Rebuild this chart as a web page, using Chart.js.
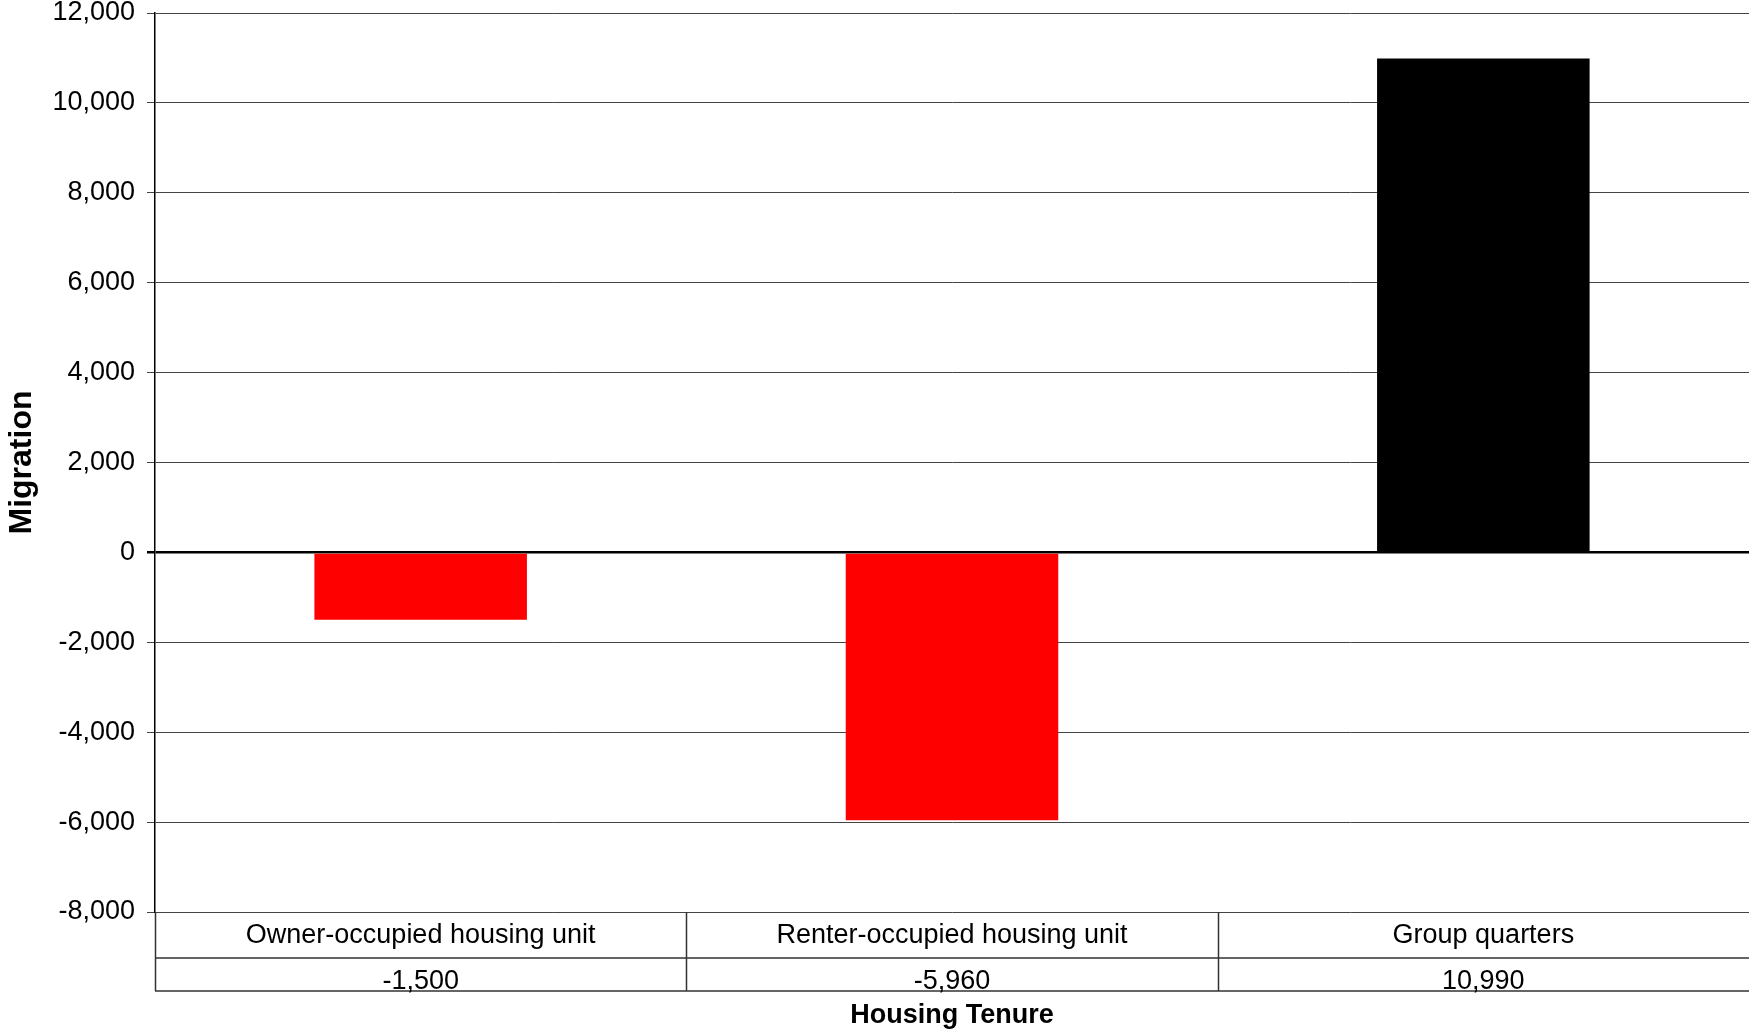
<!DOCTYPE html>
<html>
<head>
<meta charset="utf-8">
<script src="https://cdn.jsdelivr.net/npm/chart.js@4/dist/chart.umd.min.js"></script>
<style>
    body { margin: 0; background: #fff; }
    #wrap { width: 1749px; height: 1032px; }
</style>
</head>
<body>
<div id="wrap"><canvas id="tenureChart" width="1749" height="1032"></canvas></div>
<script>
const categories = ["Owner-occupied housing unit", "Renter-occupied housing unit", "Group quarters"];
const migration = [-1500, -5960, 10990];
const yTitle = "Migration";
const xTitle = "Housing Tenure";

const FONT = "'Liberation Sans', Arial, sans-serif";

function fmt(v) {
    return v.toLocaleString("en-US");
}

// data table under the plot, plus the x axis title
const tablePlugin = {
    id: "dataTable",
    afterDraw(chart) {
        let ctx = chart.ctx;
        let area = chart.chartArea;
        let x = chart.scales.x;
        let top = area.bottom;
        let mid = top + 46;
        let bottom = top + 79;
        let colW = (area.right - area.left) / categories.length;

        ctx.save();
        ctx.strokeStyle = "#333";
        ctx.lineWidth = 1.5;
        ctx.beginPath();
        ctx.moveTo(area.left, mid);
        ctx.lineTo(area.right, mid);
        ctx.moveTo(area.left, bottom);
        ctx.lineTo(area.right, bottom);
        for (let i = 0; i < categories.length; i++) {
            let lx = Math.round(x.getPixelForValue(i) - colW / 2) + 0.5;
            ctx.moveTo(lx, top);
            ctx.lineTo(lx, bottom);
        }
        ctx.stroke();

        ctx.fillStyle = "#000";
        ctx.textAlign = "center";
        ctx.textBaseline = "middle";
        ctx.font = "27px " + FONT;
        categories.forEach((c, i) => {
            let cx = x.getPixelForValue(i);
            ctx.fillText(c, cx, top + 24);
            ctx.fillText(fmt(migration[i]), cx, mid + 24);
        });

        ctx.font = "bold 27px " + FONT;
        ctx.fillText(xTitle, (area.left + area.right) / 2, 1016);
        ctx.restore();
    }
};

new Chart(document.getElementById("tenureChart").getContext("2d"), {
    type: "bar",
    data: {
        labels: categories,
        datasets: [{
            label: yTitle,
            data: migration,
            backgroundColor: c => (c.raw < 0 ? "#ff0000" : "#000000"),
            borderWidth: 0,
            categoryPercentage: 1.0,
            barPercentage: 0.4
        }]
    },
    options: {
        responsive: false,
        animation: false,
        layout: { padding: { top: 13, bottom: 120, left: 0, right: 0 } },
        plugins: {
            legend: { display: false },
            tooltip: { enabled: false }
        },
        scales: {
            x: {
                display: false
            },
            y: {
                min: -8000,
                max: 12000,
                afterFit(scale) {
                    scale.width = 155;
                    scale.paddingTop = 0;
                    scale.paddingBottom = 0;
                },
                ticks: {
                    stepSize: 2000,
                    color: "#000",
                    padding: 12,
                    font: { family: FONT, size: 27 },
                    callback: v => fmt(v)
                },
                grid: {
                    color: c => (c.tick && c.tick.value === 0 ? "#000" : "#444"),
                    lineWidth: c => (c.tick && c.tick.value === 0 ? 2.5 : 1),
                    tickLength: 8
                },
                border: { color: "#000", width: 1.5 },
                title: {
                    display: true,
                    text: yTitle,
                    color: "#000",
                    padding: { top: 3, bottom: 0 },
                    font: { family: FONT, size: 32, weight: "bold" }
                }
            }
        }
    },
    plugins: [tablePlugin]
});
</script>
</body>
</html>
